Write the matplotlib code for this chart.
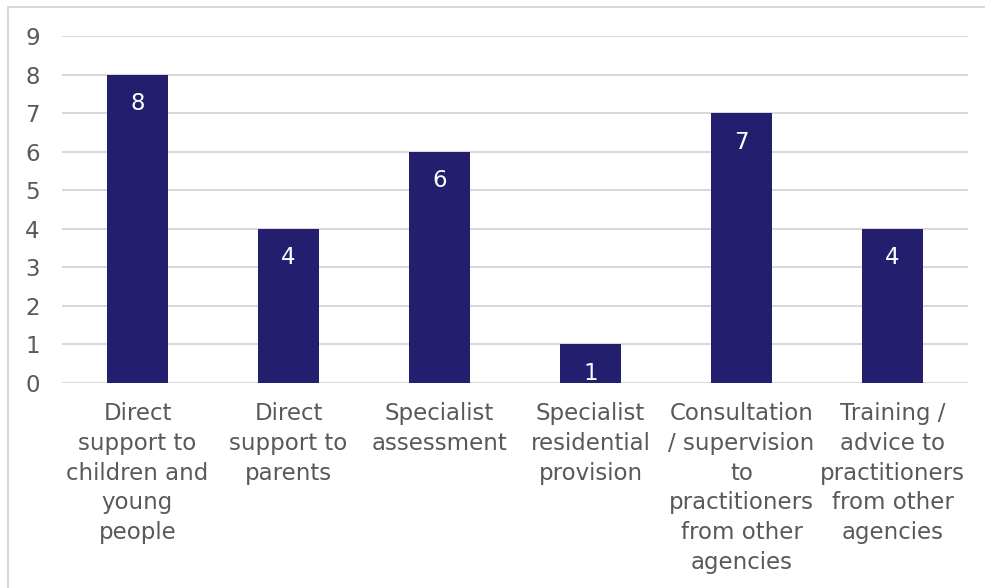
import matplotlib
matplotlib.use("Agg")
import matplotlib.pyplot as plt
from matplotlib.patches import Rectangle

categories = [
    "Direct\nsupport to\nchildren and\nyoung\npeople",
    "Direct\nsupport to\nparents",
    "Specialist\nassessment",
    "Specialist\nresidential\nprovision",
    "Consultation\n/ supervision\nto\npractitioners\nfrom other\nagencies",
    "Training /\nadvice to\npractitioners\nfrom other\nagencies",
]
values = [8, 4, 6, 1, 7, 4]
yticks = [0, 1, 2, 3, 4, 5, 6, 7, 8, 9]

bar_color = "#231F6E"
text_color = "#595959"
grid_color = "#D9D9D9"

plt.rcParams["font.family"] = ["DejaVu Sans"]

W, H = 985, 588
fig = plt.figure(figsize=(W / 100, H / 100), dpi=100)

# chart-area border (only left and top edges fall inside the canvas)
fig.patches.append(Rectangle((8 / W, -0.1), 1.2, 1 - 7 / H + 0.1,
                             transform=fig.transFigure, fill=False,
                             edgecolor=grid_color, linewidth=1.5))

ax = fig.add_axes([62 / W, 1 - 383 / H, (968 - 62) / W, (383 - 36) / H])
x = range(len(categories))
bars = ax.bar(x, values, width=0.4, color=bar_color, zorder=3)

ax.set_xlim(-0.5, len(categories) - 0.5)
ax.set_ylim(0, 9)
ax.set_yticks(yticks)
ax.set_yticklabels([str(t) for t in yticks])
ax.set_xticks(list(x))
ax.set_xticklabels(categories, linespacing=1.37)

for spine in ax.spines.values():
    spine.set_visible(False)
ax.grid(axis="y", color=grid_color, linewidth=1.5, zorder=0)
ax.set_axisbelow(True)
ax.tick_params(axis="both", length=0, labelsize=16.5, colors=text_color)
ax.tick_params(axis="y", pad=16)
ax.tick_params(axis="x", pad=14)

for rect, v in zip(bars, values):
    ax.annotate(str(v), (rect.get_x() + rect.get_width() / 2, v),
                xytext=(0, -21), textcoords="offset points",
                ha="center", va="center", color="white", fontsize=16.5, zorder=4)

fig.savefig("out.png", dpi=100)
